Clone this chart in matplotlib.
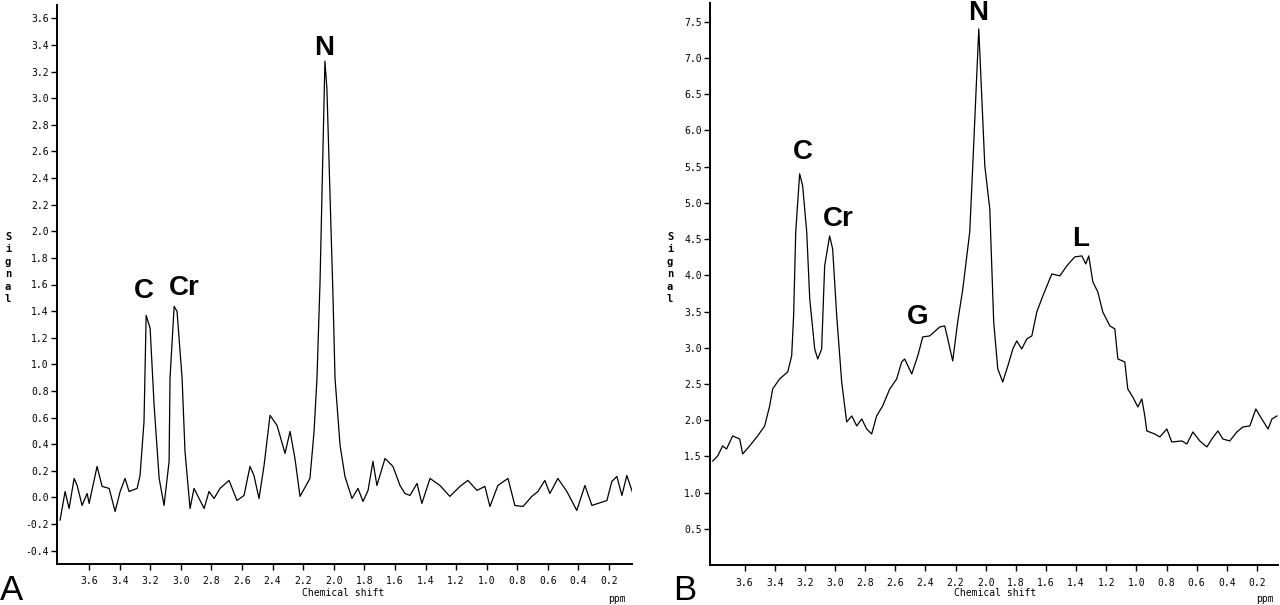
import numpy as np
import matplotlib.pyplot as plt

# Panel A spectrum (ppm, signal)
ppm_a = [3.79, 3.757, 3.731, 3.698, 3.678, 3.646, 3.613, 3.600, 3.548, 3.515, 3.469, 3.430,
         3.397, 3.365, 3.339, 3.286, 3.267, 3.241, 3.227, 3.201, 3.175, 3.142, 3.110, 3.077,
         3.071, 3.044, 3.025, 2.992, 2.973, 2.940, 2.914, 2.881, 2.848, 2.816, 2.783, 2.744,
         2.685, 2.633, 2.587, 2.548, 2.522, 2.489, 2.456, 2.417, 2.371, 2.319, 2.286, 2.254,
         2.221, 2.156, 2.129, 2.110, 2.090, 2.058, 2.045, 2.005, 1.992, 1.959, 1.927, 1.881,
         1.842, 1.809, 1.776, 1.744, 1.718, 1.665, 1.613, 1.567, 1.535, 1.502, 1.456, 1.424,
         1.371, 1.306, 1.241, 1.175, 1.123, 1.064, 1.012, 0.979, 0.927, 0.861, 0.816, 0.763,
         0.705, 0.665, 0.620, 0.587, 0.535, 0.476, 0.411, 0.358, 0.312, 0.273, 0.214, 0.182,
         0.149, 0.116, 0.084, 0.044]
sig_a = [-0.17, 0.045, -0.083, 0.143, 0.09, -0.06, 0.03, -0.045, 0.233, 0.083, 0.068, -0.105,
         0.045, 0.143, 0.045, 0.068, 0.165, 0.571, 1.368, 1.271, 0.692, 0.143, -0.06, 0.271,
         0.895, 1.436, 1.398, 0.895, 0.346, -0.083, 0.068, -0.008, -0.083, 0.045, -0.008, 0.068,
         0.128, -0.023, 0.015, 0.233, 0.165, -0.008, 0.241, 0.617, 0.541, 0.331, 0.496, 0.293,
         0.008, 0.143, 0.496, 0.895, 1.62, 3.278, 3.07, 1.5, 0.895, 0.391, 0.158, -0.008,
         0.068, -0.03, 0.053, 0.271, 0.09, 0.293, 0.233, 0.09, 0.03, 0.015, 0.105, -0.045,
         0.143, 0.09, 0.008, 0.083, 0.128, 0.053, 0.083, -0.068, 0.09, 0.143, -0.06, -0.068,
         0.008, 0.045, 0.128, 0.03, 0.143, 0.045, -0.098, 0.09, -0.06, -0.045, -0.023, 0.12,
         0.158, 0.015, 0.165, 0.03]

# Panel B spectrum
ppm_b = [3.812, 3.779, 3.746, 3.720, 3.680, 3.633, 3.613, 3.567, 3.514, 3.467, 3.434, 3.414,
         3.368, 3.314, 3.288, 3.275, 3.261, 3.235, 3.215, 3.188, 3.168, 3.135, 3.115, 3.089,
         3.069, 3.036, 3.016, 2.989, 2.956, 2.923, 2.889, 2.856, 2.823, 2.790, 2.757, 2.724,
         2.684, 2.637, 2.591, 2.558, 2.538, 2.491, 2.451, 2.418, 2.372, 2.305, 2.272, 2.252,
         2.219, 2.186, 2.152, 2.106, 2.086, 2.046, 2.006, 1.973, 1.947, 1.920, 1.887, 1.853,
         1.820, 1.794, 1.761, 1.727, 1.694, 1.661, 1.621, 1.561, 1.508, 1.462, 1.409, 1.362,
         1.336, 1.316, 1.289, 1.256, 1.223, 1.176, 1.143, 1.123, 1.077, 1.057, 1.024, 0.990,
         0.964, 0.944, 0.931, 0.878, 0.844, 0.798, 0.765, 0.698, 0.665, 0.625, 0.579, 0.532,
         0.499, 0.459, 0.426, 0.380, 0.333, 0.293, 0.247, 0.207, 0.180, 0.126, 0.100, 0.067]
sig_b = [1.436, 1.506, 1.644, 1.602, 1.782, 1.740, 1.533, 1.644, 1.782, 1.920, 2.196, 2.431,
         2.569, 2.666, 2.887, 3.439, 4.599, 5.401, 5.235, 4.599, 3.674, 2.983, 2.845, 2.983,
         4.130, 4.544, 4.365, 3.439, 2.528, 1.975, 2.058, 1.920, 2.017, 1.878, 1.809, 2.058,
         2.196, 2.431, 2.569, 2.804, 2.845, 2.638, 2.887, 3.149, 3.163, 3.287, 3.301, 3.122,
         2.818, 3.356, 3.812, 4.599, 5.511, 7.403, 5.511, 4.917, 3.356, 2.707, 2.528, 2.749,
         2.983, 3.094, 2.983, 3.122, 3.163, 3.494, 3.715, 4.019, 3.992, 4.130, 4.254, 4.268,
         4.157, 4.268, 3.909, 3.771, 3.494, 3.301, 3.260, 2.845, 2.804, 2.431, 2.320, 2.182,
         2.293, 2.058, 1.851, 1.809, 1.768, 1.878, 1.699, 1.713, 1.671, 1.837, 1.713, 1.630,
         1.740, 1.851, 1.740, 1.713, 1.837, 1.906, 1.920, 2.155, 2.058, 1.878, 2.017, 2.058]

# peak labels (text, ppm, signal)
labels_a = [("C", 3.24, 1.55), ("Cr", 2.98, 1.57), ("N", 2.064, 3.376)]
labels_b = [("C", 3.215, 5.70), ("Cr", 2.976, 4.78), ("G", 2.451, 3.43),
            ("N", 2.053, 7.62), ("L", 1.369, 4.50)]

xticks = np.round(np.arange(3.6, 0.1, -0.2), 1)
yticks_a = np.round(np.arange(-0.4, 3.61, 0.2), 1)
yticks_b = np.round(np.arange(0.5, 7.51, 0.5), 1)

W, H = 1280, 605
fig = plt.figure(figsize=(W / 100, H / 100), dpi=100)

ax_a = fig.add_axes([57 / W, 41 / H, 575 / W, 559 / H])
ax_b = fig.add_axes([710 / W, 40 / H, 568 / W, 562 / H])


def style(ax, yt):
    for s in ['top', 'right']:
        ax.spines[s].set_visible(False)
    for s in ['left', 'bottom']:
        ax.spines[s].set_linewidth(1.4)
    ax.set_xticks(xticks)
    ax.set_xticklabels([f"{v:.1f}" for v in xticks])
    ax.set_yticks(yt)
    ax.set_yticklabels([f"{v:.1f}" for v in yt])
    ax.tick_params(direction='out', length=4, width=1, labelsize=7, pad=2)
    for t in ax.get_xticklabels() + ax.get_yticklabels():
        t.set_family('DejaVu Sans Mono')
    ax.tick_params(axis='x', pad=5)


ax_a.plot(ppm_a, sig_a, color='black', lw=0.9)
ax_a.set_xlim(3.81, 0.05)
ax_a.set_ylim(-0.5, 3.70)
style(ax_a, yticks_a)

ax_b.plot(ppm_b, sig_b, color='black', lw=0.9)
ax_b.set_xlim(3.83, 0.06)
ax_b.set_ylim(0, 7.76)
style(ax_b, yticks_b)

for ax, labs in [(ax_a, labels_a), (ax_b, labels_b)]:
    for txt, x, y in labs:
        ax.text(x, y, txt, ha='center', va='center', fontsize=20,
                fontweight='bold', family='Liberation Sans')

# stacked y label, x label, ppm, panel letters
for x0, xl, xp, letter in [(8, 343, 617, "A"), (670, 995, 1265, "B")]:
    fig.text(x0 / W, 1 - 268 / H, "S\ni\ng\nn\na\nl", ha='center', va='center',
             fontsize=7.5, fontweight='bold', family='DejaVu Sans Mono', linespacing=1.3)
    fig.text(xl / W, 1 - 593 / H, "Chemical shift", ha='center', va='center',
             fontsize=7, family='DejaVu Sans Mono')
    fig.text(xp / W, 1 - 599 / H, "ppm", ha='center', va='center',
             fontsize=7, family='DejaVu Sans Mono')
fig.text(12 / W, 1 - 590 / H, "A", ha='center', va='center', fontsize=25, family='Liberation Sans')
fig.text(685 / W, 1 - 590 / H, "B", ha='center', va='center', fontsize=25, family='Liberation Sans')

fig.savefig('out.png', dpi=100)
